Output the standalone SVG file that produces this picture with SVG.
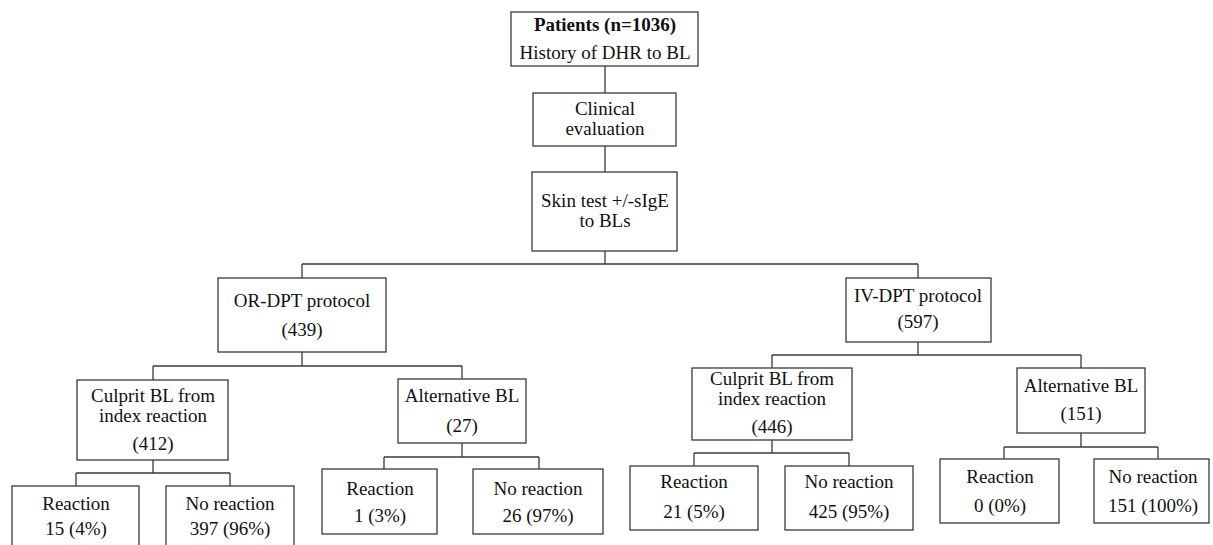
<svg xmlns="http://www.w3.org/2000/svg" width="1213" height="545" viewBox="0 0 1213 545">
<style>
.box{fill:#fff;stroke:#3a3a3a;stroke-width:1.3}
.ln{fill:none;stroke:#3a3a3a;stroke-width:1.3}
text{font-family:"Liberation Serif","Times New Roman",serif;font-size:19px;fill:#111;text-anchor:middle}
.b{font-weight:bold}
</style>
<rect width="1213" height="545" fill="#fff"/>
<g id="connectors">
<path class="ln" d="M605 66V93M605 146V172M605 251V264M302 264H918M302 264V278M918 264V278"/>
<path class="ln" d="M302 352V366M153 366H462M153 366V380M462 366V379"/>
<path class="ln" d="M153 460V473M76 473H230M76 473V486M230 473V486"/>
<path class="ln" d="M462 443V457M384 457H539M384 457V469M539 457V469"/>
<path class="ln" d="M918 342V355M772 355H1081M772 355V368M1081 355V368"/>
<path class="ln" d="M772 440V453M694 453H849M694 453V466M849 453V466"/>
<path class="ln" d="M1081 433V447M1004 447H1158M1004 447V459M1158 447V459"/>
</g>
<g id="patients"><rect class="box" x="511" y="12" width="187" height="54"/><text class="b" x="605" y="31">Patients (n=1036)</text><text x="605" y="59">History of DHR to BL</text></g>
<g id="clinical"><rect class="box" x="533" y="93" width="143" height="53"/><text x="605" y="115">Clinical</text><text x="605" y="135">evaluation</text></g>
<g id="skin"><rect class="box" x="532" y="172" width="145" height="79"/><text x="605" y="207">Skin test +/-sIgE</text><text x="605" y="227">to BLs</text></g>
<g id="or-dpt"><rect class="box" x="218" y="278" width="168" height="74"/><text x="302" y="307">OR-DPT protocol</text><text x="302" y="336">(439)</text></g>
<g id="iv-dpt"><rect class="box" x="846" y="278" width="145" height="64"/><text x="918" y="302">IV-DPT protocol</text><text x="918" y="328">(597)</text></g>
<g id="or-culprit"><rect class="box" x="77" y="380" width="151" height="80"/><text x="153" y="402">Culprit BL from</text><text x="153" y="422">index reaction</text><text x="153" y="450">(412)</text></g>
<g id="or-alt"><rect class="box" x="398" y="379" width="128" height="64"/><text x="462" y="402">Alternative BL</text><text x="462" y="432">(27)</text></g>
<g id="iv-culprit"><rect class="box" x="692" y="368" width="160" height="72"/><text x="772" y="385">Culprit BL from</text><text x="772" y="405">index reaction</text><text x="772" y="433">(446)</text></g>
<g id="iv-alt"><rect class="box" x="1017" y="368" width="128" height="65"/><text x="1081" y="392">Alternative BL</text><text x="1081" y="420">(151)</text></g>
<g id="r15"><rect class="box" x="12" y="486" width="127" height="75"/><text x="76" y="510">Reaction</text><text x="76" y="535">15 (4%)</text></g>
<g id="nr397"><rect class="box" x="166" y="486" width="128" height="75"/><text x="230" y="510">No reaction</text><text x="230" y="535">397 (96%)</text></g>
<g id="r1"><rect class="box" x="322" y="469" width="115" height="65"/><text x="380" y="495">Reaction</text><text x="380" y="522">1 (3%)</text></g>
<g id="nr26"><rect class="box" x="473" y="469" width="130" height="65"/><text x="538" y="495">No reaction</text><text x="538" y="522">26 (97%)</text></g>
<g id="r21"><rect class="box" x="630" y="466" width="128" height="64"/><text x="694" y="488">Reaction</text><text x="694" y="518">21 (5%)</text></g>
<g id="nr425"><rect class="box" x="785" y="466" width="128" height="64"/><text x="849" y="488">No reaction</text><text x="849" y="518">425 (95%)</text></g>
<g id="r0"><rect class="box" x="940" y="459" width="119" height="64"/><text x="1000" y="483">Reaction</text><text x="1000" y="512">0 (0%)</text></g>
<g id="nr151"><rect class="box" x="1094" y="459" width="115" height="64"/><text x="1153" y="483">No reaction</text><text x="1153" y="512">151 (100%)</text></g>
</svg>
